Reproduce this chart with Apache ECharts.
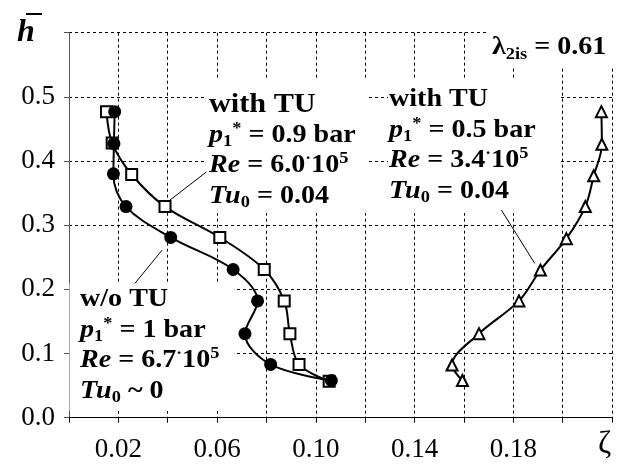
<!DOCTYPE html>
<html><head><meta charset="utf-8">
<script src="https://cdn.jsdelivr.net/npm/echarts@6/dist/echarts.min.js"></script>
<style>html,body{margin:0;padding:0;background:#fff}#c{width:629px;height:465px}</style>
</head><body><div id="c"></div>
<script>
// ---- data (zeta, h-bar) ----
const woTU_zeta = [0.0185, 0.0182, 0.0180, 0.0231, 0.0412, 0.0665, 0.0764, 0.0713, 0.0817, 0.1063];
const woTU_h    = [0.477, 0.427, 0.380, 0.329, 0.281, 0.231, 0.182, 0.131, 0.083, 0.058];
const tu09_zeta = [0.0152, 0.0175, 0.0254, 0.0389, 0.0611, 0.0791, 0.0872, 0.0895, 0.0932, 0.1054];
const tu09_h    = [0.477, 0.428, 0.379, 0.329, 0.281, 0.231, 0.182, 0.131, 0.083, 0.057];
const tu05_zeta = [0.2157, 0.2159, 0.2126, 0.2092, 0.2015, 0.1910, 0.1823, 0.1661, 0.1552, 0.1594];
const tu05_h    = [0.477, 0.426, 0.377, 0.329, 0.279, 0.230, 0.182, 0.131, 0.082, 0.058];
// leader lines (data coords)
const leaderTu09 = [[0.0409, 0.3391], [0.0557, 0.3831]];
const leaderWoTU = [[0.0377, 0.2611], [0.0267, 0.2093]];
const leaderTu05 = [[0.1752, 0.3235], [0.1887, 0.2405]];
// tick labels
const xTickLabels = ['0.02', '0.06', '0.10', '0.14', '0.18'];
const yTickLabels = ['0.0', '0.1', '0.2', '0.3', '0.4', '0.5'];

const zip = (a, b) => a.map((v, i) => [v, b[i]]);
const FONT = 'Liberation Serif';

const chart = echarts.init(document.getElementById('c'));

const LH = 30.5;
const richBase = {
  b:   {fontFamily: FONT, fontWeight: 'bold', fontSize: 26, lineHeight: LH},
  hb:  {fontFamily: FONT, fontWeight: 'bold', fontSize: 28, lineHeight: LH},
  i:   {fontFamily: FONT, fontWeight: 'bold', fontStyle: 'italic', fontSize: 26, lineHeight: LH},
  sub: {fontFamily: FONT, fontWeight: 'bold', fontSize: 17, lineHeight: 14, verticalAlign: 'bottom'},
  sup: {fontFamily: FONT, fontWeight: 'bold', fontSize: 17, lineHeight: 16, verticalAlign: 'top'},
  dot: {fontFamily: FONT, fontWeight: 'bold', fontSize: 16, lineHeight: 18, verticalAlign: 'top'},
  star:{fontFamily: FONT, fontWeight: 'bold', fontSize: 17, lineHeight: 10, verticalAlign: 'top'}
};

function box(x, y, w, h) {
  return {type: 'rect', z: 1, silent: true, shape: {x: x, y: y, width: w, height: h}, style: {fill: '#fff'}};
}
function txt(x, y, text) {
  return {type: 'text', z: 5, x: x, y: y, scaleX: 1.08, silent: true,
    style: {text: text, rich: richBase, fill: '#000', align: 'left', verticalAlign: 'top', font: 'bold 26px ' + FONT}};
}

const option = {
  animation: false,
  backgroundColor: '#fff',
  grid: {left: 69, right: 17, top: 32.7, bottom: 47.3, containLabel: false},
  xAxis: {
    type: 'value', min: 0, max: 0.22, interval: 0.02,
    axisLine: {show: true, onZero: false, lineStyle: {color: '#000', width: 1}},
    axisTick: {show: true, length: 5, lineStyle: {color: '#000'}},
    axisLabel: {
      margin: 19, color: '#000', fontFamily: FONT, fontSize: 27,
      formatter: v => { const s = v.toFixed(2); return xTickLabels.includes(s) ? s : ''; }
    },
    splitLine: {show: true, lineStyle: {color: '#000', width: 1, type: [3, 3]}}
  },
  yAxis: {
    type: 'value', min: 0, max: 0.6, interval: 0.1,
    axisLine: {show: true, onZero: false, lineStyle: {color: '#555', width: 1}},
    axisTick: {show: true, length: 5, lineStyle: {color: '#555'}},
    axisLabel: {
      margin: 14, color: '#000', fontFamily: FONT, fontSize: 27,
      formatter: v => { const s = v.toFixed(1); return yTickLabels.includes(s) ? s : ''; }
    },
    splitLine: {show: true, lineStyle: {color: '#000', width: 1, type: [3, 3]}}
  },
  series: [
    {type: 'line', data: zip(tu09_zeta, tu09_h), smooth: 0.35, symbol: 'rect', symbolSize: 11,
     lineStyle: {color: '#000', width: 2}, itemStyle: {color: '#fff', borderColor: '#000', borderWidth: 2}, z: 3},
    {type: 'line', data: zip(woTU_zeta, woTU_h), smooth: 0.35, symbol: 'circle', symbolSize: 13,
     lineStyle: {color: '#000', width: 2}, itemStyle: {color: '#000', borderColor: '#000', borderWidth: 0}, z: 4},
    {type: 'line', data: zip(tu05_zeta, tu05_h), smooth: 0.35, symbol: 'triangle', symbolSize: 11,
     lineStyle: {color: '#000', width: 2}, itemStyle: {color: '#fff', borderColor: '#000', borderWidth: 2}, z: 3},
    {type: 'line', data: leaderTu09, symbol: 'none', lineStyle: {color: '#000', width: 1}, z: 2},
    {type: 'line', data: leaderWoTU, symbol: 'none', lineStyle: {color: '#000', width: 1}, z: 2},
    {type: 'line', data: leaderTu05, symbol: 'none', lineStyle: {color: '#000', width: 1}, z: 2}
  ],
  graphic: [
    box(205, 78, 163, 135),
    box(388, 78, 172, 135),
    box(69.5, 283, 166, 128),
    box(488, 20, 141, 46),
    txt(209, 105 - 15.5, '{hb|with TU}\n{i|p}{sub|1}{star|*}{b| = 0.9 bar}\n{i|Re}{b| = 6.0}{dot|·}{b|10}{sup|5}\n{i|Tu}{sub|0}{b| = 0.04}'),
    txt(389, 100 - 15.5, '{b|with TU}\n{i|p}{sub|1}{star|*}{b| = 0.5 bar}\n{i|Re}{b| = 3.4}{dot|·}{b|10}{sup|5}\n{i|Tu}{sub|0}{b| = 0.04}'),
    txt(80, 300 - 15.5, '{b|w/o TU}\n{i|p}{sub|1}{star|*}{b| = 1 bar}\n{i|Re}{b| = 6.7}{dot|·}{b|10}{sup|5}\n{i|Tu}{sub|0}{b| ~ 0}'),
    txt(492, 48 - 15.5, '{b|λ}{sub|2is}{b| = 0.61}'),
    {type: 'text', z: 5, left: 17, top: 17, silent: true,
     style: {text: 'h', fill: '#000', font: 'italic bold 32px ' + FONT}},
    {type: 'line', z: 5, silent: true, shape: {x1: 26, y1: 14, x2: 42, y2: 14}, style: {stroke: '#000', lineWidth: 2}},
    {type: 'text', z: 5, left: 598, top: 429, silent: true,
     style: {text: 'ζ', fill: '#000', font: '32px ' + FONT}}
  ]
};
chart.setOption(option);
</script>
</body></html>
